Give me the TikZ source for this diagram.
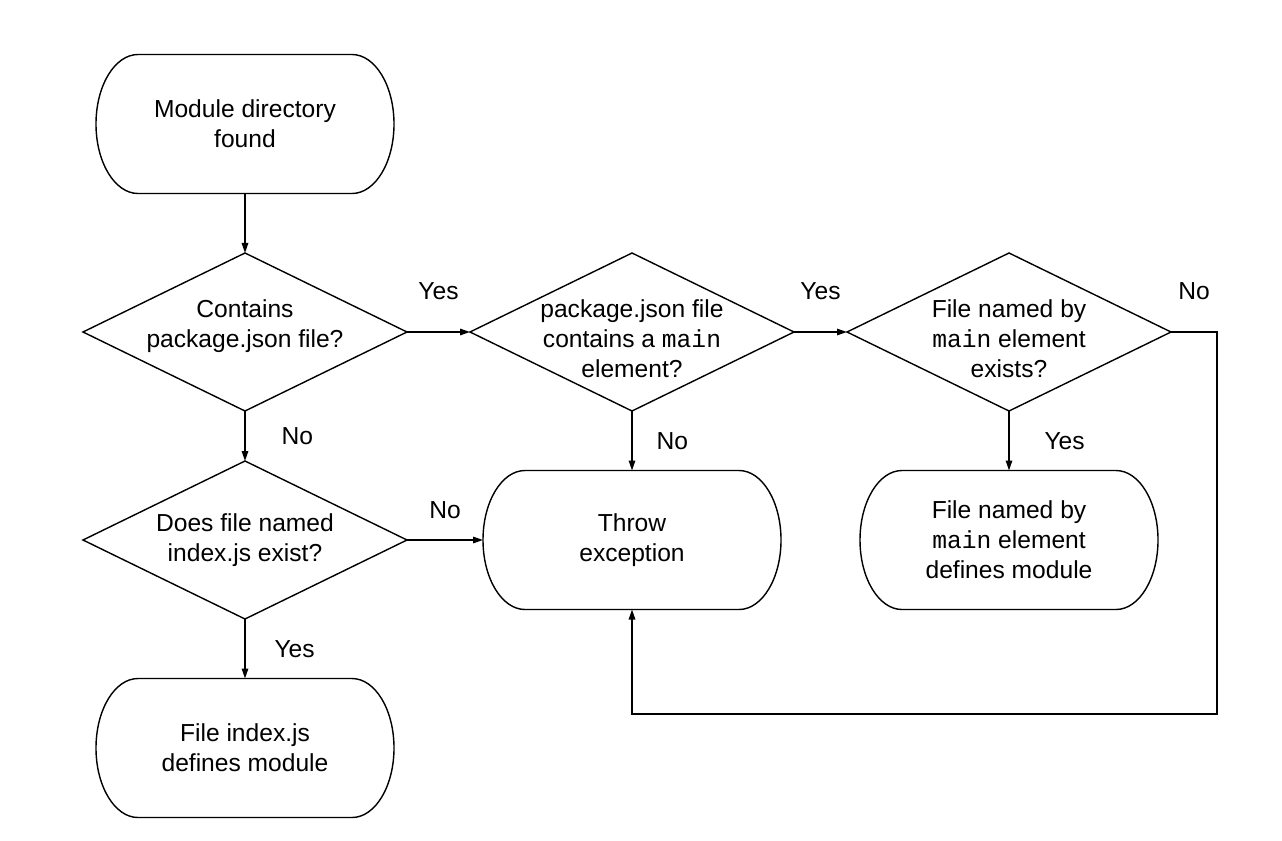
\documentclass[tikz,border=0pt]{standalone}
\usepackage{fontspec}
\setmainfont{Liberation Sans}
\setmonofont{Liberation Mono}
\usetikzlibrary{shapes, arrows.meta, positioning}

\tikzset{
  terminal/.style={rectangle, outer sep=0pt, minimum width=5.96cm, minimum height=2.78cm, align=center},
  decision/.style={diamond, draw, outer sep=0pt, aspect=2, inner sep=-3mm, minimum width=6.48cm, minimum height=3.16cm, align=center}
}

\begin{document}
\begin{tikzpicture}[node distance=4.16cm, auto, line width=0.8pt,
    >={Triangle[length=2mm, width=1.3mm]}, font=\fontsize{14pt}{17pt}\selectfont]
			\useasboundingbox (0,0) rectangle (25.64,-16.8);
			\node (found) [terminal] at (4.9,-2.48) {Module directory\\found};
			\node (haspkg) [decision, text depth=9.5pt, below of=found] {Contains\\package.json file?};
			\node (hasmain) [decision, text height=52pt, node distance=7.74cm, right of=haspkg] {package.json file\\contains a \texttt{main}\\element?};
			\node (mainexists) [decision, text height=52pt, node distance=7.54cm, right of=hasmain] {File named by\\\texttt{main} element\\exists?};
			\node (hasindex) [decision, below of=haspkg] {Does file named\\index.js exist?};
			\node (throw) [terminal, below of=hasmain] {Throw\\exception};
			\node (mainmod) [terminal, below of=mainexists] {File named by\\\texttt{main} element\\defines module};
			\node (indexmod) [terminal, below of=hasindex] {File index.js\\defines module};
			\coordinate (back) at (24.34,-14.28);
			
			\foreach \n in {found, throw, mainmod, indexmod}
				\draw ([xshift=0.84cm]\n.north west) -- ([xshift=-0.84cm]\n.north east)
				arc[start angle=90, end angle=-90, x radius=0.84cm, y radius=1.39cm]
				-- ([xshift=0.84cm]\n.south west)
				arc[start angle=270, end angle=90, x radius=0.84cm, y radius=1.39cm] -- cycle;
			
			\path[->] (found) edge (haspkg)
			(haspkg) edge node[above=0.52cm] {Yes} (hasmain)
			(hasmain) edge node[above=0.52cm] {Yes} (mainexists)
			(haspkg) edge node[right=0.6cm] {No} (hasindex)
			(hasmain) edge node[right=0.36cm] {No} (throw)
			(mainexists) edge node[right=0.58cm] {Yes} (mainmod)
			(hasindex) edge node[above=0.3cm] {No} (throw)
			(hasindex) edge node[right=0.46cm] {Yes} (indexmod);
			\draw[->] (mainexists.east) -| node[pos=0.25, above=0.52cm] {No} (back) -| (throw.south);
		\end{tikzpicture}
\end{document}
